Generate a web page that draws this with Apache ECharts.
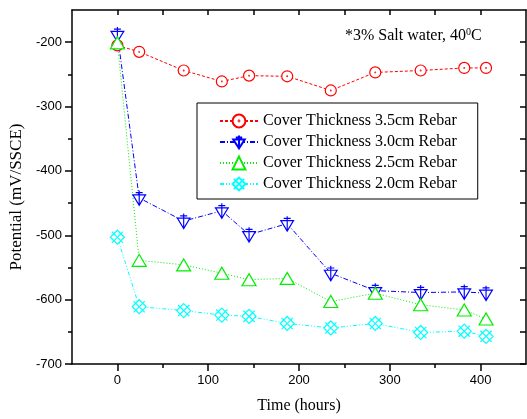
<!DOCTYPE html>
<html>
<head>
<meta charset="utf-8"/>
<title>Potential vs Time</title>
<script type="text/javascript" src="https://cdn.jsdelivr.net/npm/echarts@6/dist/echarts.min.js"></script>
<style type="text/css">
	body{
		margin: 0px;
		padding: 0px;
		background: #fff;
	}
	#chart{
		width: 527px;
		height: 419px;
	}
</style>
</head>
<body>
	<div id="chart"></div>
<script type="text/javascript">
	// 数据
	var hours = [0, 24, 73, 115, 145, 187, 235, 284, 334, 382, 406];
	var cover35 = [-205, -215, -244, -261, -252, -253, -275, -247, -244, -240, -240];
	var cover30 = [-188, -442, -478, -462, -499, -482, -559, -586, -589, -588, -590];
	var cover25 = [-201, -539, -546, -559, -569, -567, -603, -590, -608, -616, -630];
	var cover20 = [-503, -611, -617, -624, -626, -637, -644, -637, -651, -649, -657];
	var names = ['Cover Thickness 3.5cm Rebar', 'Cover Thickness 3.0cm Rebar',
		'Cover Thickness 2.5cm Rebar', 'Cover Thickness 2.0cm Rebar'];
	var xMajor = [0, 100, 200, 300, 400];
	var xMinor = [50, 150, 250, 350];
	var yMajor = [-700, -600, -500, -400, -300, -200];
	var yMinor = [-650, -550, -450, -350, -250];

	var serif = '"Liberation Serif", "Times New Roman", serif';
	var sans = '"Liberation Sans", Arial, sans-serif';

	// 符号
	var symCircle = 'path://M0,-10A10,10 0 1,1 0,10A10,10 0 1,1 0,-10Z M0,-0.6A0.6,0.6 0 1,1 0,0.6A0.6,0.6 0 1,1 0,-0.6Z';
	var symTriDown = 'path://M-9,-4L9,-4L0,10Z M0,-10L0,10 M-10,-4L10,-4 M-5,-7L5,-7';
	var symTriUp = 'path://M0,-10L10,8L-10,8Z';
	var symCross = 'path://M0,-10L10,0L0,10L-10,0Z M-8,-8L8,8 M8,-8L-8,8';

	function pairs(ys){
		var out = [];
		for(var i=0;i<hours.length;i++){
			out.push([hours[i], ys[i]]);
		}
		return out;
	}

	function makeSeries(name, ys, color, dash, symbol, size){
		return {
			name: name,
			type: 'line',
			data: pairs(ys),
			symbol: symbol,
			symbolSize: size,
			lineStyle: { color: color, width: 1, type: dash },
			itemStyle: { color: '#fff', borderColor: color, borderWidth: 1.2 },
			emphasis: { disabled: true },
			z: 3
		};
	}

	var axisLine = { show: true, onZero: false, lineStyle: { color: '#000', width: 1.5 } };
	var noLine = { show: false, onZero: false };

	var myChart = echarts.init(document.getElementById('chart'), null, { renderer: 'canvas' });
	var option = {
		animation: false,
		backgroundColor: '#fff',
		grid: { left: 72, top: 10, right: 1, bottom: 55 },
		xAxis: [
			{
				type: 'value', min: -50, max: 450, position: 'bottom',
				name: 'Time (hours)', nameLocation: 'middle', nameGap: 34,
				nameTextStyle: { fontFamily: serif, fontSize: 16, color: '#000' },
				axisLine: axisLine,
				axisTick: { show: true, length: 7, customValues: xMajor, lineStyle: { color: '#000', width: 1.5 } },
				axisLabel: { customValues: xMajor, margin: 10, fontFamily: sans, fontSize: 13, color: '#000' },
				splitLine: { show: false }
			},
			{
				type: 'value', min: -50, max: 450, position: 'top',
				axisLine: axisLine,
				axisTick: { show: true, inside: true, length: 5, customValues: xMajor.concat(xMinor), lineStyle: { color: '#000', width: 1.5 } },
				axisLabel: { show: false },
				splitLine: { show: false }
			},
			{
				type: 'value', min: -50, max: 450, position: 'bottom',
				axisLine: noLine,
				axisTick: { show: true, length: 4, customValues: xMinor, lineStyle: { color: '#000', width: 1.5 } },
				axisLabel: { show: false },
				splitLine: { show: false }
			}
		],
		yAxis: [
			{
				type: 'value', min: -700, max: -150, position: 'left',
				name: 'Potential (mV/SSCE)', nameLocation: 'middle', nameGap: 46,
				nameTextStyle: { fontFamily: serif, fontSize: 17, color: '#000', padding: [0, 20, 0, 0] },
				axisLine: axisLine,
				axisTick: { show: true, length: 7, customValues: yMajor, lineStyle: { color: '#000', width: 1.5 } },
				axisLabel: { customValues: yMajor, margin: 10, fontFamily: sans, fontSize: 13, color: '#000' },
				splitLine: { show: false }
			},
			{
				type: 'value', min: -700, max: -150, position: 'right',
				axisLine: axisLine,
				axisTick: { show: true, inside: true, length: 6, customValues: yMajor.concat(yMinor), lineStyle: { color: '#000', width: 1.5 } },
				axisLabel: { show: false },
				splitLine: { show: false }
			},
			{
				type: 'value', min: -700, max: -150, position: 'left',
				axisLine: noLine,
				axisTick: { show: true, length: 4, customValues: yMinor, lineStyle: { color: '#000', width: 1.5 } },
				axisLabel: { show: false },
				splitLine: { show: false }
			}
		],
		legend: {
			data: names,
			orient: 'vertical',
			left: 197, top: 103,
			padding: [10, 21, 7, 22],
			itemWidth: 38, itemHeight: 16, itemGap: 5,
			borderColor: '#000', borderWidth: 1, borderRadius: 0,
			backgroundColor: '#fff',
			selectedMode: false,
			textStyle: { fontFamily: serif, fontSize: 16, color: '#000' }
		},
		graphic: [
			{
				type: 'text', left: 345, top: 27,
				style: {
					text: '*3% Salt water, 40{sup|0}C',
					font: '16px ' + serif,
					fill: '#000',
					rich: {
						sup: { fontSize: 10, fontFamily: serif, verticalAlign: 'top', lineHeight: 18 }
					}
				}
			}
		],
		series: [
			makeSeries(names[0], cover35, '#ff0000', [3, 2], symCircle, 11),
			makeSeries(names[1], cover30, '#0000ff', [5, 2, 1, 2], symTriDown, [14, 15]),
			makeSeries(names[2], cover25, '#00ee00', [1, 2], symTriUp, [14, 12]),
			makeSeries(names[3], cover20, '#00ffff', [4, 2, 1, 2, 1, 2], symCross, [14, 14])
		]
	};
	myChart.setOption(option);
</script>
</body>
</html>
